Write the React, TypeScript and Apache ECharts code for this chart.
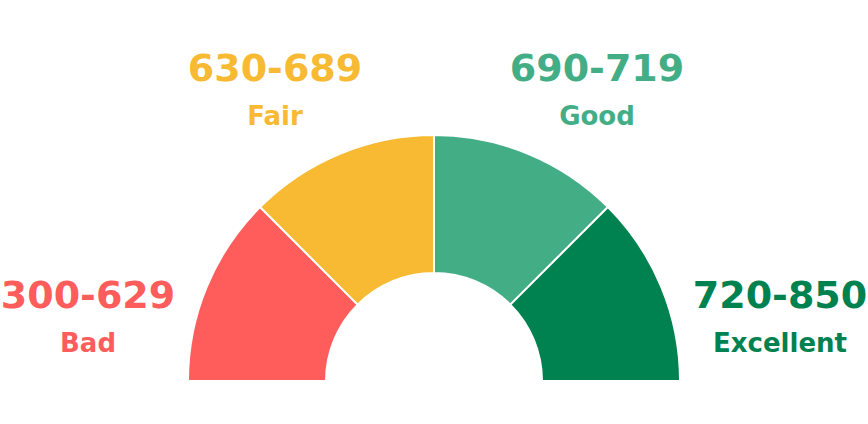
import React, { useEffect, useRef } from "react";
import * as echarts from "echarts";

const categories = ["Bad", "Fair", "Good", "Excellent"];
const ranges = ["300-629", "630-689", "690-719", "720-850"];
const segmentValues = [1, 1, 1, 1];
const colors = ["#FF5C5C", "#F7BA32", "#43AE86", "#008150"];

// label anchor layout (center x, center y of range text)
const labelLayout = [
  [88, 295],
  [275, 68],
  [597, 68],
  [780, 295],
];

export default function App() {
  const ref = useRef<HTMLDivElement>(null);
  useEffect(() => {
    if (!ref.current) return;
    const chart = echarts.init(ref.current, undefined, { renderer: "svg" });
    const total = segmentValues.reduce((a, b) => a + b, 0);
    const data: any[] = categories.map((c, i) => ({
      name: c,
      value: segmentValues[i],
      itemStyle: { color: colors[i] },
    }));
    data.push({ name: "hidden", value: total, itemStyle: { color: "rgba(0,0,0,0)", borderWidth: 0 } });
    const graphics: any[] = [];
    categories.forEach((c, i) => {
      const [x, y] = labelLayout[i];
      graphics.push({
        type: "text",
        x,
        y,
        style: {
          text: ranges[i],
          fill: colors[i],
          font: "bold 38px 'DejaVu Sans'",
          align: "center",
          verticalAlign: "middle",
        },
      });
      graphics.push({
        type: "text",
        x,
        y: y + 48,
        style: {
          text: c,
          fill: colors[i],
          font: "bold 26px 'DejaVu Sans'",
          align: "center",
          verticalAlign: "middle",
        },
      });
    });
    chart.setOption({
      animation: false,
      series: [
        {
          type: "pie",
          center: [434, 381],
          radius: [108, 246],
          startAngle: 180,
          clockwise: true,
          silent: true,
          label: { show: false },
          labelLine: { show: false },
          itemStyle: { borderColor: "#fff", borderWidth: 2 },
          data,
        },
      ],
      graphic: graphics,
    });
    return () => chart.dispose();
  }, []);
  return (
    <div
      ref={ref}
      style={{ position: "fixed", left: 0, top: 0, width: 868, height: 424, background: "#fff" }}
    />
  );
}
